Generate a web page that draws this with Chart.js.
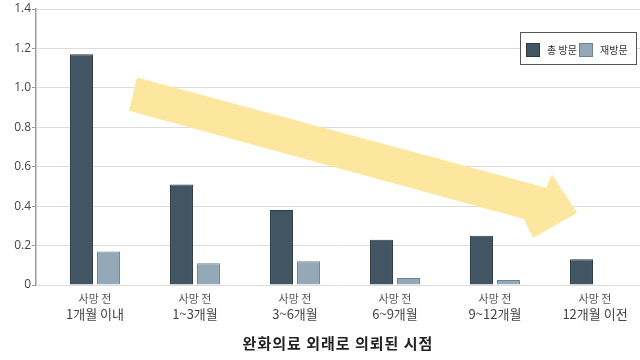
<!DOCTYPE html>
<html lang="ko">
<head>
<meta charset="utf-8">
<title>완화의료 외래 의뢰 시점별 방문</title>
<script src="https://cdn.jsdelivr.net/npm/chart.js@4/dist/chart.umd.min.js"></script>
<style>
  html, body { margin: 0; padding: 0; background: #fff; overflow: hidden; }
  .wrap { position: relative; width: 640px; height: 360px; }
</style>
</head>
<body>
<div class="wrap"><canvas id="chart"></canvas></div>
<script>
/* =========================
   Data
========================= */
const categories = [
  ["사망 전", "1개월 이내"],
  ["사망 전", "1~3개월"],
  ["사망 전", "3~6개월"],
  ["사망 전", "6~9개월"],
  ["사망 전", "9~12개월"],
  ["사망 전", "12개월 이전"],
];
const totalVisits = [1.17, 0.51, 0.38, 0.23, 0.25, 0.13];
const revisits = [0.17, 0.11, 0.12, 0.035, 0.025, null];
const seriesNames = ["총 방문", "재방문"];
const yTicks = [0, 0.2, 0.4, 0.6, 0.8, 1.0, 1.2, 1.4];
const xTitle = "완화의료 외래로 의뢰된 시점";

// 추세 화살표 (데이터 좌표: x = 항목 index, y = 값)
const trendArrow = [
  [0.42, 1.052], [4.51, 0.493], [4.57, 0.559], [4.82, 0.366],
  [4.38, 0.239], [4.29, 0.335], [0.34, 0.884],
];

const DARK = "#415563";
const LIGHT = "#93a9b7";
const KR = "'Noto Sans CJK KR', 'Noto Sans', sans-serif";

/* =========================
   Plugins
========================= */
const arrowPlugin = {
  id: "trendArrow",
  beforeDatasetsDraw(chart) {
    const { ctx, scales: { x, y } } = chart;
    ctx.save();
    ctx.fillStyle = "#fde69d";
    ctx.beginPath();
    trendArrow.forEach(([vx, vy], i) => {
      const px = x.getPixelForValue(vx);
      const py = y.getPixelForValue(vy);
      i === 0 ? ctx.moveTo(px, py) : ctx.lineTo(px, py);
    });
    ctx.closePath();
    ctx.fill();
    ctx.restore();
  },
};

const labelsPlugin = {
  id: "catLabels",
  afterDraw(chart) {
    const { ctx, chartArea, scales: { x } } = chart;
    ctx.save();
    ctx.textAlign = "center";
    ctx.textBaseline = "middle";
    categories.forEach((lines, i) => {
      const px = x.getPixelForValue(i);
      ctx.fillStyle = "#555";
      ctx.font = `11px ${KR}`;
      ctx.fillText(lines[0], px, chartArea.bottom + 14);
      ctx.fillStyle = "#444";
      ctx.font = `13px ${KR}`;
      ctx.fillText(lines[1], px, chartArea.bottom + 29);
    });
    // x축 제목
    ctx.fillStyle = "#222";
    ctx.font = `bold 15px ${KR}`;
    ctx.letterSpacing = "1px";
    ctx.fillText(xTitle, (chartArea.left + chartArea.right) / 2, chartArea.bottom + 58);
    ctx.restore();
  },
};

const legendPlugin = {
  id: "boxLegend",
  afterDraw(chart) {
    const { ctx } = chart;
    ctx.save();
    ctx.fillStyle = "#fff";
    ctx.fillRect(520, 32, 117, 33);
    ctx.strokeStyle = "#555";
    ctx.lineWidth = 1;
    ctx.strokeRect(520.5, 32.5, 116, 32);
    ctx.font = `10px ${KR}`;
    ctx.textBaseline = "middle";
    ctx.textAlign = "left";
    const xs = [526, 579];
    chart.data.datasets.forEach((ds, i) => {
      ctx.fillStyle = ds.backgroundColor;
      ctx.fillRect(xs[i], 43, 14, 14);
      ctx.strokeStyle = ds.borderColor;
      ctx.strokeRect(xs[i] + 0.5, 43.5, 13, 13);
      ctx.fillStyle = "#333";
      ctx.fillText(ds.label, xs[i] + 21, 50);
    });
    ctx.restore();
  },
};

/* =========================
   Chart
========================= */
new Chart(document.getElementById("chart"), {
  type: "bar",
  data: {
    datasets: [
      {
        label: seriesNames[0],
        data: totalVisits.map((v, i) => ({ x: i, y: v })),
        backgroundColor: DARK,
        borderColor: "#2c3a44",
        borderWidth: 1,
      },
      {
        label: seriesNames[1],
        data: revisits.map((v, i) => ({ x: i, y: v })),
        backgroundColor: LIGHT,
        borderColor: "#6d8290",
        borderWidth: 1,
      },
    ],
  },
  options: {
    responsive: true,
    maintainAspectRatio: false,
    animation: false,
    categoryPercentage: 0.54,
    barPercentage: 0.85,
    layout: { padding: { top: 9, right: 0, bottom: 75, left: 0 } },
    plugins: {
      legend: { display: false },
      tooltip: { enabled: false },
    },
    scales: {
      x: {
        type: "linear",
        offset: false,
        min: -0.59,
        max: 5.45,
        afterBuildTicks: (axis) => { axis.ticks = categories.map((_, i) => ({ value: i })); },
        afterFit: (axis) => { axis.height = 0; },
        grid: { display: false },
        border: { display: false },
        ticks: { display: false },
      },
      y: {
        min: 0,
        max: 1.4,
        afterBuildTicks: (axis) => { axis.ticks = yTicks.map(v => ({ value: v })); },
        afterFit: (axis) => { axis.width = 36; },
        grid: { color: "#dcdcdc", tickLength: 4, tickColor: "#999" },
        border: { color: "#9a9a9a", width: 1.5 },
        ticks: {
          padding: 1,
          color: "#444",
          font: { family: "'Open Sans', sans-serif", size: 12 },
          callback: (v) => (v === 0 ? "0" : v.toFixed(1)),
        },
      },
    },
  },
  plugins: [arrowPlugin, labelsPlugin, legendPlugin],
});
</script>
</body>
</html>
